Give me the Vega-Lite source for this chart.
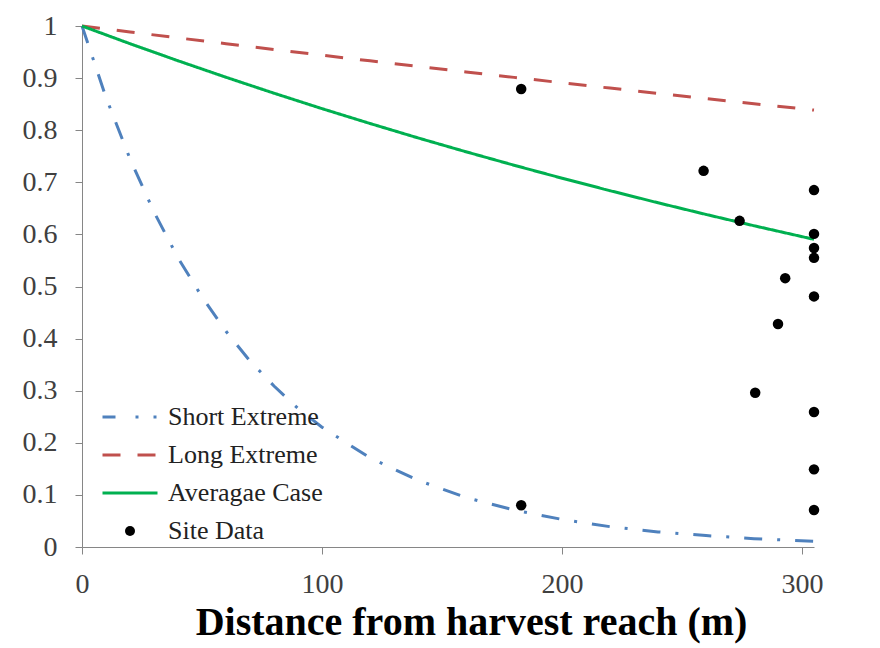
{
  "$schema": "https://vega.github.io/schema/vega-lite/v6.json",
  "width": 732,
  "height": 521,
  "autosize": "none",
  "padding": {"left": 82, "top": 26, "right": 66, "bottom": 101},
  "background": "white",
  "config": {"view": {"stroke": null}, "font": "Liberation Serif"},
  "datasets": {
    "curves": [
      {"series": "Short Extreme", "distance": 0, "value": 1},
      {"series": "Short Extreme", "distance": 10, "value": 0.863},
      {"series": "Short Extreme", "distance": 20, "value": 0.745},
      {"series": "Short Extreme", "distance": 30, "value": 0.643},
      {"series": "Short Extreme", "distance": 40, "value": 0.555},
      {"series": "Short Extreme", "distance": 50, "value": 0.48},
      {"series": "Short Extreme", "distance": 60, "value": 0.414},
      {"series": "Short Extreme", "distance": 70, "value": 0.357},
      {"series": "Short Extreme", "distance": 80, "value": 0.309},
      {"series": "Short Extreme", "distance": 90, "value": 0.266},
      {"series": "Short Extreme", "distance": 100, "value": 0.23},
      {"series": "Short Extreme", "distance": 120, "value": 0.171},
      {"series": "Short Extreme", "distance": 140, "value": 0.128},
      {"series": "Short Extreme", "distance": 160, "value": 0.095},
      {"series": "Short Extreme", "distance": 180, "value": 0.071},
      {"series": "Short Extreme", "distance": 200, "value": 0.053},
      {"series": "Short Extreme", "distance": 220, "value": 0.039},
      {"series": "Short Extreme", "distance": 240, "value": 0.029},
      {"series": "Short Extreme", "distance": 260, "value": 0.022},
      {"series": "Short Extreme", "distance": 280, "value": 0.016},
      {"series": "Short Extreme", "distance": 305, "value": 0.011},
      {"series": "Long Extreme", "distance": 0, "value": 1},
      {"series": "Long Extreme", "distance": 20, "value": 0.9885},
      {"series": "Long Extreme", "distance": 40, "value": 0.9772},
      {"series": "Long Extreme", "distance": 60, "value": 0.966},
      {"series": "Long Extreme", "distance": 80, "value": 0.9549},
      {"series": "Long Extreme", "distance": 100, "value": 0.9439},
      {"series": "Long Extreme", "distance": 120, "value": 0.9331},
      {"series": "Long Extreme", "distance": 140, "value": 0.9224},
      {"series": "Long Extreme", "distance": 160, "value": 0.9118},
      {"series": "Long Extreme", "distance": 180, "value": 0.9014},
      {"series": "Long Extreme", "distance": 200, "value": 0.891},
      {"series": "Long Extreme", "distance": 220, "value": 0.8808},
      {"series": "Long Extreme", "distance": 240, "value": 0.8707},
      {"series": "Long Extreme", "distance": 260, "value": 0.8607},
      {"series": "Long Extreme", "distance": 280, "value": 0.8508},
      {"series": "Long Extreme", "distance": 305, "value": 0.8386},
      {"series": "Averagae Case", "distance": 0, "value": 1},
      {"series": "Averagae Case", "distance": 20, "value": 0.966},
      {"series": "Averagae Case", "distance": 40, "value": 0.9333},
      {"series": "Averagae Case", "distance": 60, "value": 0.9016},
      {"series": "Averagae Case", "distance": 80, "value": 0.871},
      {"series": "Averagae Case", "distance": 100, "value": 0.8414},
      {"series": "Averagae Case", "distance": 120, "value": 0.8129},
      {"series": "Averagae Case", "distance": 140, "value": 0.7852},
      {"series": "Averagae Case", "distance": 160, "value": 0.7586},
      {"series": "Averagae Case", "distance": 180, "value": 0.7328},
      {"series": "Averagae Case", "distance": 200, "value": 0.7079},
      {"series": "Averagae Case", "distance": 220, "value": 0.6839},
      {"series": "Averagae Case", "distance": 240, "value": 0.6607},
      {"series": "Averagae Case", "distance": 260, "value": 0.6383},
      {"series": "Averagae Case", "distance": 280, "value": 0.6166},
      {"series": "Averagae Case", "distance": 305, "value": 0.5905}
    ],
    "site": [
      {"series": "Site Data", "distance": 183, "value": 0.879},
      {"series": "Site Data", "distance": 259, "value": 0.722},
      {"series": "Site Data", "distance": 305, "value": 0.685},
      {"series": "Site Data", "distance": 274, "value": 0.626},
      {"series": "Site Data", "distance": 305, "value": 0.601},
      {"series": "Site Data", "distance": 305, "value": 0.574},
      {"series": "Site Data", "distance": 305, "value": 0.555},
      {"series": "Site Data", "distance": 293, "value": 0.516},
      {"series": "Site Data", "distance": 305, "value": 0.481},
      {"series": "Site Data", "distance": 290, "value": 0.428},
      {"series": "Site Data", "distance": 280.5, "value": 0.296},
      {"series": "Site Data", "distance": 305, "value": 0.259},
      {"series": "Site Data", "distance": 305, "value": 0.149},
      {"series": "Site Data", "distance": 305, "value": 0.071},
      {"series": "Site Data", "distance": 183, "value": 0.08}
    ]
  },
  "layer": [
    {
      "data": {"name": "curves"},
      "mark": {"type": "line", "strokeWidth": 3, "strokeCap": "butt"},
      "encoding": {
        "x": {
          "field": "distance", "type": "quantitative",
          "scale": {"domain": [0, 305], "nice": false, "zero": true},
          "axis": {
            "values": [0, 100, 200, 300],
            "grid": false,
            "domainColor": "#868686", "tickColor": "#868686", "tickSize": 7,
            "labelFont": "Liberation Serif", "labelFontSize": 28, "labelColor": "#404040",
            "labelPadding": 16, "labelFlush": false,
            "title": "Distance from harvest reach (m)",
            "titleFont": "Liberation Serif", "titleFontSize": 40, "titleFontWeight": "bold",
            "titleColor": "#000000", "titleX": 389, "titleY": 87,
            "titleBaseline": "alphabetic", "titleAlign": "center"
          }
        },
        "y": {
          "field": "value", "type": "quantitative",
          "scale": {"domain": [0, 1], "nice": false},
          "axis": {
            "values": [0, 0.1, 0.2, 0.3, 0.4, 0.5, 0.6, 0.7, 0.8, 0.9, 1],
            "format": ".1~f",
            "grid": false,
            "domainColor": "#868686", "tickColor": "#868686", "tickSize": 7,
            "labelFont": "Liberation Serif", "labelFontSize": 28, "labelColor": "#404040",
            "labelPadding": 18, "labelFlush": false,
            "title": null
          }
        },
        "color": {
          "field": "series", "type": "nominal",
          "scale": {
            "domain": ["Short Extreme", "Long Extreme", "Averagae Case", "Site Data"],
            "range": ["#4F81BD", "#C0504D", "#00B050", "#000000"]
          },
          "legend": {
            "orient": "none", "legendX": 35, "legendY": 378,
            "title": null, "padding": 0,
            "symbolType": "stroke", "symbolSize": 3025, "symbolStrokeWidth": 3,
            "labelFont": "Liberation Serif", "labelFontSize": 26, "labelColor": "#222222",
            "labelOffset": 25, "rowPadding": 12,
            "encode": {
              "symbols": {
                "update": {
                  "shape": {"signal": "datum.value === 'Site Data' ? 'circle' : 'stroke'"},
                  "size": {"signal": "datum.value === 'Site Data' ? 100 : 3025"},
                  "strokeDash": {"signal": "datum.value === 'Short Extreme' ? [13,20,3,15,3,10] : datum.value === 'Long Extreme' ? [18,17] : [1,0]"},
                  "fill": {"signal": "datum.value === 'Site Data' ? '#000000' : 'transparent'"},
                  "strokeWidth": {"signal": "datum.value === 'Site Data' ? 0 : 3"}
                }
              }
            }
          }
        },
        "strokeDash": {
          "field": "series", "type": "nominal",
          "scale": {
            "domain": ["Short Extreme", "Long Extreme", "Averagae Case"],
            "range": [[18, 15, 3, 15], [18, 17], [1, 0]]
          },
          "legend": null
        }
      }
    },
    {
      "data": {"name": "site"},
      "mark": {"type": "point", "filled": true, "size": 110, "opacity": 1},
      "encoding": {
        "x": {"field": "distance", "type": "quantitative"},
        "y": {"field": "value", "type": "quantitative"},
        "color": {"field": "series", "type": "nominal"}
      }
    }
  ]
}
